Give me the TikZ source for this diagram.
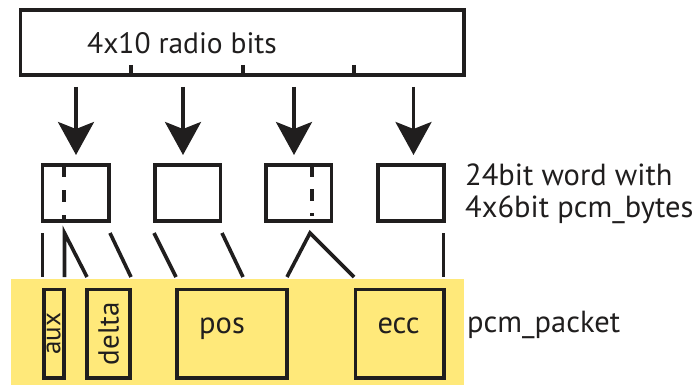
\documentclass[tikz,border=0pt]{standalone}
\usepackage{fontspec}
\setmainfont{PT Sans}
\usetikzlibrary{arrows.meta}
\definecolor{packetyellow}{RGB}{255,233,122}
\definecolor{ink}{RGB}{32,30,30}
\begin{document}
\begin{tikzpicture}[x=1pt,y=-1pt,
  lbl/.style={font=\fontsize{30.5}{36}\selectfont, inner sep=0pt, text=ink},
  box/.style={draw=ink, line width=3.6pt, inner sep=0pt},
  wire/.style={draw=ink, line width=3.6pt},
  arr/.style={draw=ink, line width=3.4pt, -{Stealth[length=33pt,width=36pt,inset=7pt]}},
  dsh/.style={draw=ink, line width=3.6pt},
]
\useasboundingbox (0,0) rectangle (700,385);
% packet background
\node[fill=packetyellow, inner sep=0pt, minimum width=453pt, minimum height=106pt] (packet) at (237.5,332) {};
% top box
\node[box, minimum width=443.5pt, minimum height=65pt] (radio) at (242.25,42.5) {};
\node[lbl, anchor=base west, font=\fontsize{29.5}{36}\selectfont] (radiotxt) at (87,54) {4x10 radio bits};
\draw[wire] (131,65) -- (131,75);
\draw[wire] (243,65) -- (243,75);
\draw[wire] (354,65) -- (354,75);
% word boxes
\node[box, minimum width=66.2pt, minimum height=56pt] (w1) at (75.6,193) {};
\node[box, minimum width=65.6pt, minimum height=56pt] (w2) at (187.5,193) {};
\node[box, minimum width=65.3pt, minimum height=56pt] (w3) at (298.7,193) {};
\node[box, minimum width=66pt, minimum height=56pt] (w4) at (410.7,193) {};
\draw[dsh, dash pattern=on 12pt off 13pt] (64,165) -- (64,221);
\draw[dsh, dash pattern=on 12pt off 12pt] (312,165) -- (312,216);
% arrows
\coordinate (a1s) at (76,87);  \coordinate (a1e) at (76,155);
\coordinate (a2s) at (183,87); \coordinate (a2e) at (183,155);
\coordinate (a3s) at (294,87); \coordinate (a3e) at (294,155);
\coordinate (a4s) at (413.5,87); \coordinate (a4e) at (413.5,155);
\draw[arr] (a1s) -- (a1e);
\draw[arr] (a2s) -- (a2e);
\draw[arr] (a3s) -- (a3e);
\draw[arr] (a4s) -- (a4e);
% packet boxes
\node[box, minimum width=20pt, minimum height=88.5pt] (aux) at (53.8,333.75) {};
\node[box, minimum width=42.8pt, minimum height=88.5pt] (delta) at (108.6,333.75) {};
\node[box, minimum width=110pt, minimum height=88.5pt] (pos) at (232,333.75) {};
\node[box, minimum width=88.4pt, minimum height=88.5pt] (ecc) at (399.5,333.75) {};
\node[lbl, rotate=90, font=\fontsize{27}{32}\selectfont] (auxtxt) at (aux.center) {aux};
\node[lbl, rotate=90, font=\fontsize{29}{34}\selectfont] (deltatxt) at (delta.center) {delta};
\node[lbl, anchor=base] (postxt) at (222,333) {pos};
\node[lbl, anchor=base] (ecctxt) at (398.5,333) {ecc};
% mapping lines
\coordinate (l1t) at (42.5,233);  \coordinate (l1b) at (42.5,277);
\coordinate (l2t) at (64.5,233);  \coordinate (l2b) at (64.5,277);
\coordinate (l2c) at (87,277);
\coordinate (l3t) at (110,233);   \coordinate (l3b) at (131,277);
\coordinate (l4t) at (154,233);   \coordinate (l4b) at (176,277);
\coordinate (l5t) at (222,233);   \coordinate (l5b) at (243,277);
\coordinate (l6l) at (287,277);   \coordinate (l6t) at (310,233); \coordinate (l6r) at (354,277);
\coordinate (l7t) at (443.5,233); \coordinate (l7b) at (443.5,277);
\draw[wire] (l1t) -- (l1b);
\draw[wire] (l2b) -- (l2t) -- (l2c);
\draw[wire] (l3t) -- (l3b);
\draw[wire] (l4t) -- (l4b);
\draw[wire] (l5t) -- (l5b);
\draw[wire, line join=miter] (l6l) -- (l6t) -- (l6r);
\draw[wire] (l7t) -- (l7b);
% side labels
\node[lbl, anchor=base west] (wordtxt1) at (465,185) {24bit word with};
\node[lbl, anchor=base west] (wordtxt2) at (465,217) {4x6bit pcm\_bytes};
\node[lbl, anchor=base west] (packettxt) at (467,332) {pcm\_packet};
\end{tikzpicture}
\end{document}
